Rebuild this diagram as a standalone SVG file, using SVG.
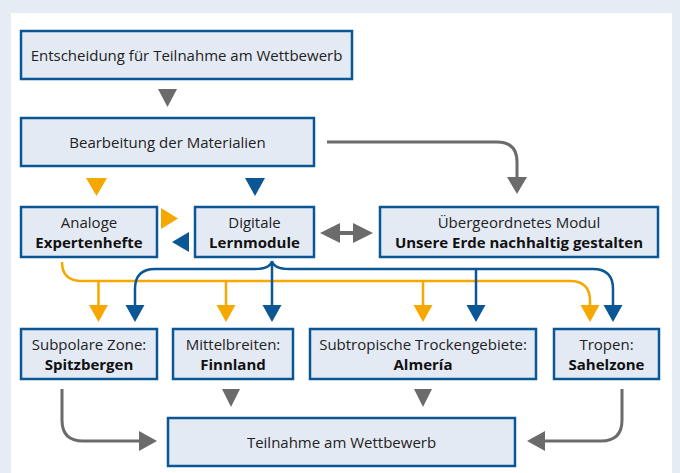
<svg xmlns="http://www.w3.org/2000/svg" width="680" height="473" viewBox="0 0 680 473">
<style>
.box{fill:#e4eaf4;stroke:#0b5795;stroke-width:2.5}
text{font-family:"Open Sans","Noto Sans","Liberation Sans",sans-serif;font-size:15px;fill:#222222;text-anchor:middle}
.b{font-weight:bold;fill:#111111}
.g{fill:#6b6b6b}
.gl{fill:none;stroke:#6b6b6b;stroke-width:3}
.o{fill:#f6a800}
.ol{fill:none;stroke:#f6a800;stroke-width:2.5}
.bl{fill:#0b5795}
.bll{fill:none;stroke:#0b5795;stroke-width:2.5}
</style>
<rect width="680" height="473" fill="#e5ecf4"/>
<rect x="11" y="13" width="661" height="460" fill="#ffffff"/>
<g id="connectors">
<polygon class="g" points="158,89 177,89 167.5,107"/>
<polygon class="o" points="86,178 107,178 96.5,196"/>
<polygon class="bl" points="245,178 265,178 255,196"/>
<path class="gl" d="M327,142 H497 Q517,142 517,162 V178"/>
<polygon class="g" points="507,177 527,177 517,194"/>
<polygon class="o" points="161,208 178,218.5 161,229"/>
<polygon class="bl" points="189,232 172,242 189,252"/>
<rect class="g" x="336" y="231" width="20" height="4"/>
<polygon class="g" points="320,233 340,223 340,243"/>
<polygon class="g" points="373,233 353,223 353,243"/>
<path class="ol" d="M62,262 Q62,281 82,281 H570 Q590,281 590,301 V306"/>
<path class="ol" d="M98.5,281 V306 M226,281 V306 M423,281 V306"/>
<path class="bll" d="M272,261 Q270,269 255,269 H155 Q135,269 135,289 V306 M272,261 Q274,269 289,269 H593 Q613,269 613,289 V306 M272,261 V306 M476,269 V306"/>
<polygon class="o" points="89,305 108,305 98.5,322"/>
<polygon class="o" points="216.5,305 235.5,305 226,322"/>
<polygon class="o" points="413.5,305 432.5,305 423,322"/>
<polygon class="o" points="580.5,305 599.5,305 590,322"/>
<polygon class="bl" points="125.5,305 144.5,305 135,322"/>
<polygon class="bl" points="262.5,305 281.5,305 272,322"/>
<polygon class="bl" points="466.5,305 485.5,305 476,322"/>
<polygon class="bl" points="603.5,305 622.5,305 613,322"/>
<polygon class="g" points="222,389 240,389 231,407"/>
<polygon class="g" points="414,389 432,389 423,407"/>
<path class="gl" d="M62,389 V420 Q62,441 83,441 H142"/>
<polygon class="g" points="139,431 157,441 139,451"/>
<path class="gl" d="M622,389 V420 Q622,441 601,441 H542"/>
<polygon class="g" points="545,431 527,441 545,451"/>
</g>
<g id="n1"><rect class="box" x="21" y="31" width="331" height="48"/><text x="186.5" y="60.5">Entscheidung für Teilnahme am Wettbewerb</text></g>
<g id="n2"><rect class="box" x="21" y="118" width="293" height="48"/><text x="167.5" y="147.5">Bearbeitung der Materialien</text></g>
<g id="n3"><rect class="box" x="21" y="207" width="136" height="50"/><text x="89" y="228">Analoge</text><text class="b" x="89" y="247.5">Expertenhefte</text></g>
<g id="n4"><rect class="box" x="195" y="207" width="119" height="50"/><text x="254.5" y="228">Digitale</text><text class="b" x="254.5" y="247.5">Lernmodule</text></g>
<g id="n5"><rect class="box" x="380" y="207" width="278" height="50"/><text x="519" y="228">Übergeordnetes Modul</text><text class="b" x="519" y="247.5">Unsere Erde nachhaltig gestalten</text></g>
<g id="n6"><rect class="box" x="21" y="329" width="136" height="50"/><text x="89" y="350">Subpolare Zone:</text><text class="b" x="89" y="369.5">Spitzbergen</text></g>
<g id="n7"><rect class="box" x="173" y="329" width="120" height="50"/><text x="233" y="350">Mittelbreiten:</text><text class="b" x="233" y="369.5">Finnland</text></g>
<g id="n8"><rect class="box" x="310" y="329" width="226" height="50"/><text x="423" y="350">Subtropische Trockengebiete:</text><text class="b" x="423" y="369.5">Almería</text></g>
<g id="n9"><rect class="box" x="554" y="329" width="105" height="50"/><text x="606.5" y="350">Tropen:</text><text class="b" x="606.5" y="369.5">Sahelzone</text></g>
<g id="n10"><rect class="box" x="168" y="418" width="347" height="48"/><text x="341.5" y="447.5">Teilnahme am Wettbewerb</text></g>
</svg>
